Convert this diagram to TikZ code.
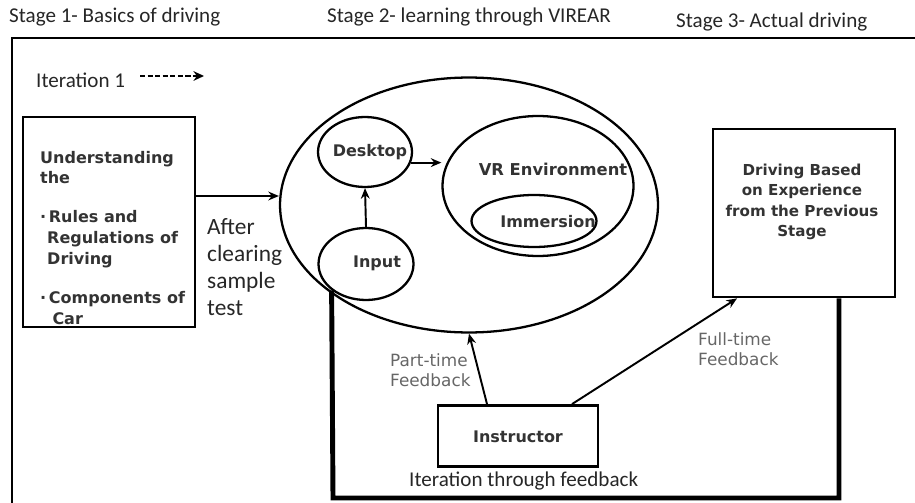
\documentclass[tikz,border=0pt]{standalone}
\usepackage{fontspec}
\setmainfont{Carlito}
\newfontfamily\dejavu{DejaVu Sans}
\usetikzlibrary{shapes.geometric,arrows.meta}

\begin{document}
\begin{tikzpicture}[x=0.02cm,y=-0.02cm,
    box/.style={draw,line width=1.6pt,inner sep=0pt},
    oval/.style={draw,ellipse,line width=1.3pt,inner sep=0pt},
    bold/.style={font=\dejavu\bfseries\fontsize{9.1}{11.7}\selectfont,text=black!80},
    gray/.style={font=\dejavu\fontsize{9.6}{11.4}\selectfont,text=black!60,align=left},
    plain/.style={font=\fontsize{12}{14}\selectfont,text=black!85},
    arr/.style={-{Stealth[length=6pt,width=5pt]},line width=1.1pt},
    fb/.style={line width=2.8pt}]
      \useasboundingbox (0,0) rectangle (915,503);
      % frame and stage titles
      \draw[line width=1.1pt] (12,503)--(12,38)--(915,38);
      \node[plain,anchor=west] (st1) at (3,17) {Stage 1- Basics of driving};
      \node[plain,anchor=west] (st2) at (321,17) {Stage 2- learning through VIREAR};
      \node[plain,anchor=west] (st3) at (670,22) {Stage 3- Actual driving};
      \node[plain,anchor=west] (it1) at (30,80) {Iteration 1};
      \coordinate (d1) at (140,76);
      \coordinate (d2) at (204,76);
      \draw[-{Stealth[length=6pt,width=5.5pt]},line width=1.7pt,dash pattern=on 3pt off 1.3pt] (d1)--(d2);
      % stage 1
      \node[box,minimum width=3.44cm,minimum height=4.2cm] (rules) at (109,222) {};
      \node[bold,anchor=north west,align=left] (rulestxt) at (34,145)
        {Understanding\\the\\[10.5pt]\textperiodcentered\,Rules and\\\hspace*{4pt}Regulations of\\\hspace*{4pt}Driving\\[11pt]\textperiodcentered\,Components of\\\hspace*{7pt}Car};
      \node[plain,anchor=west,align=left,font=\fontsize{13.3}{15.4}\selectfont] (after) at (201,267) {After\\clearing\\sample\\test};
      % stage 2
      \node[oval,minimum width=7.56cm,minimum height=5.1cm] (big) at (469,205) {};
      \node[oval,minimum width=1.88cm,minimum height=1.4cm] (desk) at (365,152) {};
      \node[bold] (desktxt) at (370,152) {Desktop};
      \node[oval,minimum width=1.9cm,minimum height=1.44cm] (input) at (366,264) {};
      \node[bold] (inputtxt) at (377,263) {Input};
      \node[oval,minimum width=3.82cm,minimum height=2.8cm] (vr) at (538,186) {};
      \node[bold,font=\dejavu\bfseries\fontsize{9.3}{11}\selectfont] (vrtxt) at (553,169) {VR Environment};
      \node[oval,minimum width=2.5cm,minimum height=1.04cm] (imm) at (534,221) {};
      \node[bold] (immtxt) at (548,222) {Immersion};
      \draw[arr] (input.north)--(desk.south);
      \draw[arr] (desk.-13)--(desk.-13 -| vr.west);
      \path (rules.east) ++(0,-26) coordinate (a1);
      \draw[arr] (a1)--(a1 -| big.west);
      % stage 3
      \node[box,minimum width=3.64cm,minimum height=3.36cm] (drive) at (804,213) {};
      \node[bold,align=center,font=\dejavu\bfseries\fontsize{8.6}{11.6}\selectfont] (drivetxt) at (802,202)
        {Driving Based\\on Experience\\from the Previous\\Stage};
      % instructor and feedback
      \node[box,minimum width=3.2cm,minimum height=1.22cm] (instr) at (518,436) {};
      \node[bold] (instrtxt) at (518,437) {Instructor};
      \draw[arr] ([xshift=-0.62cm]instr.north)--(big.south);
      \draw[arr] ([xshift=1.08cm]instr.north)--([xshift=-1.34cm]drive.south);
      \node[gray,anchor=west] (part) at (384,370) {Part-time\\Feedback};
      \node[gray,anchor=west] (full) at (692,349) {Full-time\\Feedback};
      \coordinate (loopL) at (333,498);
      \coordinate (loopR) at (839,498);
      \draw[fb] (input.south west)--(loopL)--(loopR)--(loopR |- drive.south);
      \node[plain,anchor=west] (itfb) at (403,481) {Iteration through feedback};
\end{tikzpicture}
\end{document}
